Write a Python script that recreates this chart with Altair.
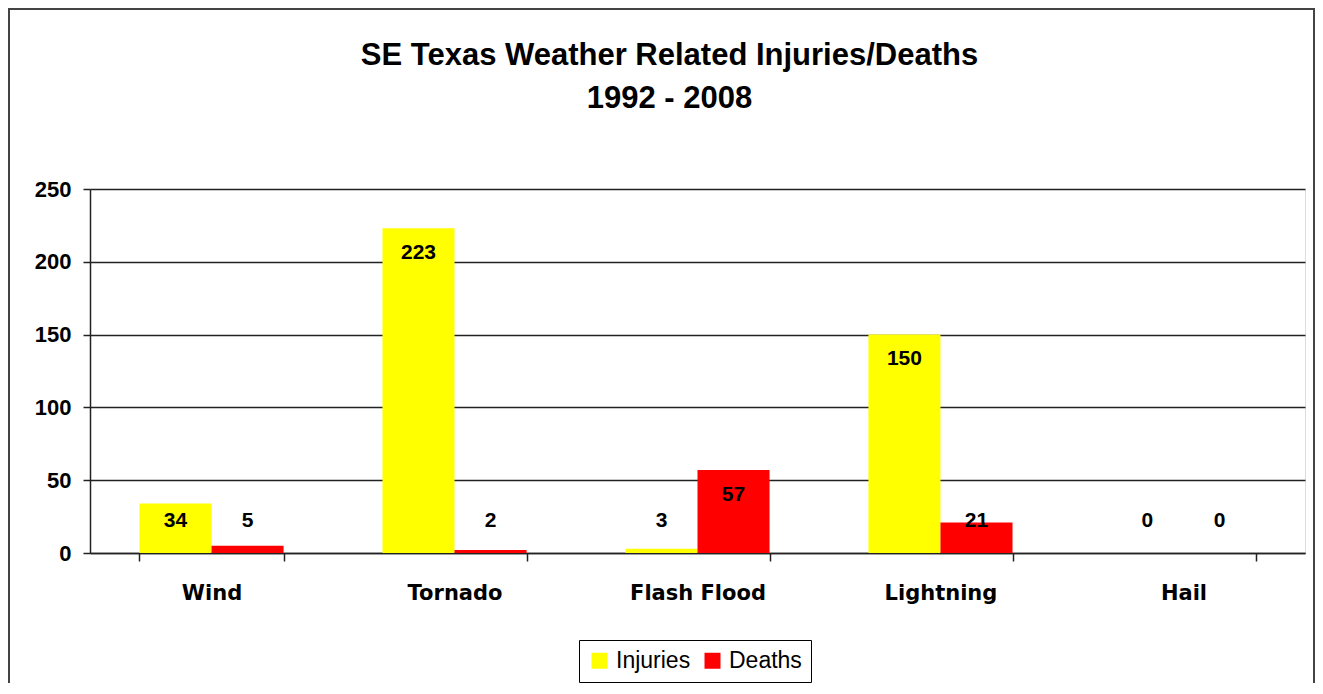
import altair as alt
import pandas as pd

categories = ["Wind", "Tornado", "Flash Flood", "Lightning", "Hail"]
injuries = [34, 223, 3, 150, 0]
deaths = [5, 2, 57, 21, 0]
series = ["Injuries", "Deaths"]
colors = ["#FFFF00", "#FF0000"]
y_ticks = [0, 50, 100, 150, 200, 250]

rows = []
for c, i, d in zip(categories, injuries, deaths):
    rows.append({"category": c, "series": "Injuries", "value": i})
    rows.append({"category": c, "series": "Deaths", "value": d})
df = pd.DataFrame(rows)

W, H = 1215, 364
PAD = {"left": 82, "top": 181, "right": 10, "bottom": 130}

x_enc = alt.X("category:N", sort=categories, title=None,
              scale=alt.Scale(paddingInner=0.407, paddingOuter=0.2037),
              axis=alt.Axis(labelAngle=0, tickBand="extent", tickSize=8,
                            tickColor="#222", tickWidth=1.5,
                            domainColor="#222", domainWidth=1.5,
                            labelFont="DejaVu Sans", labelFontSize=21,
                            labelFontWeight="bold", labelColor="black",
                            labelPadding=21, grid=False))
xo_enc = alt.XOffset("series:N", sort=series)

base = alt.Chart(df)

bars = base.mark_bar(stroke=None).encode(
    x=x_enc,
    xOffset=xo_enc,
    y=alt.Y("value:Q", title=None,
            scale=alt.Scale(domain=[0, 250], nice=False),
            axis=alt.Axis(values=y_ticks, tickSize=7, tickColor="#222",
                          tickWidth=1.5, domainColor="#222", domainWidth=1.5,
                          gridColor="#222", gridWidth=1.5, gridOpacity=1,
                          labelFont="Liberation Sans", labelFontSize=22,
                          labelFontWeight="bold", labelColor="black",
                          labelPadding=12)),
    color=alt.Color("series:N", sort=series,
                    scale=alt.Scale(domain=series, range=colors),
                    legend=alt.Legend(title=None, orient="none",
                                      direction="horizontal",
                                      legendX=489, legendY=451,
                                      symbolType="square", symbolSize=256,
                                      symbolStrokeWidth=0,
                                      labelFont="Liberation Sans",
                                      labelFontSize=23, labelColor="black",
                                      labelOffset=5, columnPadding=10,
                                      padding=9, strokeColor="black",
                                      fillColor="white")),
)

labels = base.transform_calculate(
    lab="datum.value > 40 ? datum.value - 17 : 22"
).mark_text(font="Liberation Sans", fontSize=21, fontWeight="bold",
            color="black", baseline="middle").encode(
    x=alt.X("category:N", sort=categories),
    xOffset=xo_enc,
    y=alt.Y("lab:Q"),
    text=alt.Text("value:Q"),
)

frame_data = alt.Data(values=[{"k": 1}])
left_rule = alt.Chart(frame_data).mark_rule(color="#444", strokeWidth=2).encode(
    x=alt.value(-81), y=alt.value(-180), y2=alt.value(H + PAD["bottom"]))
top_rule = alt.Chart(frame_data).mark_rule(color="#444", strokeWidth=2).encode(
    x=alt.value(-82), x2=alt.value(W + PAD["right"]), y=alt.value(-180))
right_rule = alt.Chart(frame_data).mark_rule(color="#444", strokeWidth=2).encode(
    x=alt.value(W + PAD["right"] - 1), y=alt.value(-180),
    y2=alt.value(H + PAD["bottom"]))

chart = alt.layer(bars, labels, left_rule, top_rule, right_rule).properties(
    width=W, height=H,
    title=alt.TitleParams(
        text=["SE Texas Weather Related Injuries/Deaths", "1992 - 2008"],
        font="Liberation Sans", fontSize=31, fontWeight="bold",
        color="black", lineHeight=43, offset=-107, anchor="middle", dx=-28),
    autosize=alt.AutoSizeParams(type="none"),
    padding=PAD,
).configure_view(stroke="#222", strokeWidth=1.5).configure(background="white")

chart.save("out.html", embed_options={"renderer": "svg", "actions": False})
